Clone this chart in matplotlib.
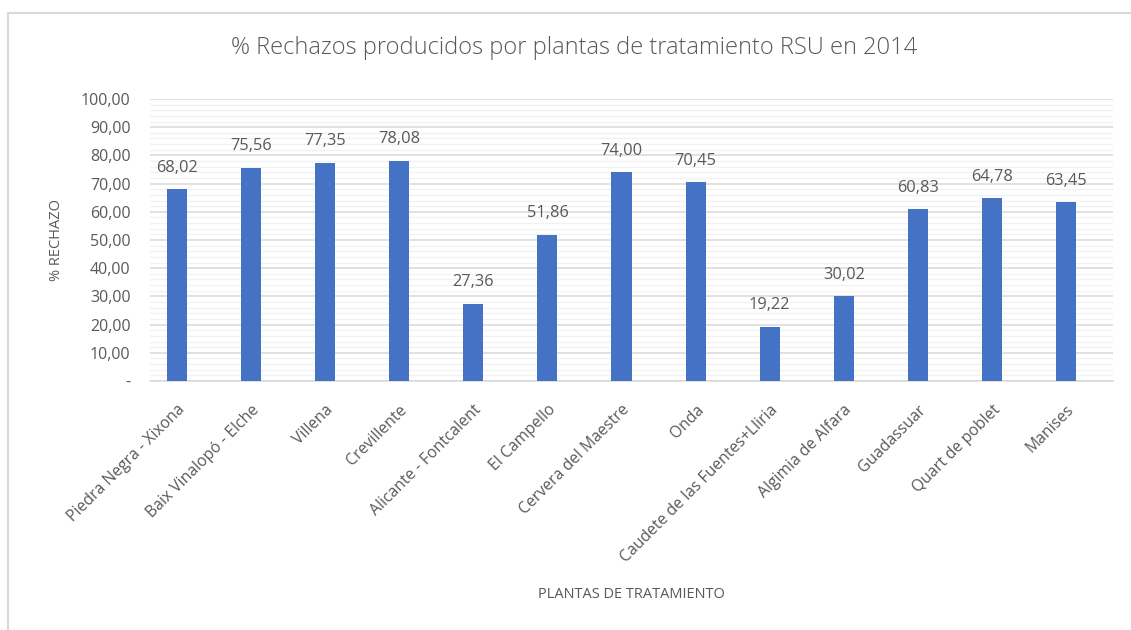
#!/usr/bin/env python3
"""
% Rechazos producidos por plantas de tratamiento RSU en 2014
"""

import numpy as np
import matplotlib
matplotlib.use("Agg")
import matplotlib.pyplot as plt
import matplotlib.ticker as ticker
from matplotlib.patches import Rectangle

# ── data ───────────────────────────────────────────────
plantas = [
    "Piedra Negra - Xixona", "Baix Vinalopó - Elche", "Villena", "Crevillente",
    "Alicante - Fontcalent", "El Campello", "Cervera del Maestre", "Onda",
    "Caudete de las Fuentes+Lliria", "Algimia de Alfara", "Guadassuar",
    "Quart de poblet", "Manises",
]
rechazo = [68.02, 75.56, 77.35, 78.08, 27.36, 51.86, 74.00, 70.45,
           19.22, 30.02, 60.83, 64.78, 63.45]

# ── colours ───────────────────────────────────────────────
C_BAR = "#4472C4"
C_TXT = "#595959"
C_GRID = "#D9D9D9"
C_MINOR = "#F2F2F2"

plt.rcParams["font.family"] = ["Open Sans", "DejaVu Sans"]


def fmt_es(v, pos=None):
    if abs(v) < 1e-9:
        return "-"
    return f"{v:.2f}".replace(".", ",")


fig = plt.figure(figsize=(11.31, 6.30), dpi=100)
ax = fig.add_axes([150 / 1131, 1 - 381 / 630, (1113 - 150) / 1131, (381 - 99) / 630])

# outer chart border (clipped by image on right/bottom)
fig.patches.append(Rectangle((7.5 / 1131, -0.1), 1.2, 1 - 13 / 630 + 0.1,
                             transform=fig.transFigure, fill=False,
                             edgecolor="#D9D9D9", linewidth=1.5))

x = np.arange(len(plantas))
ax.bar(x, rechazo, width=0.27, color=C_BAR, zorder=3)

for xi, v in zip(x, rechazo):
    ax.text(xi, v + 4.8, fmt_es(v), ha="center", va="bottom",
            fontsize=11.8, color=C_TXT)

ax.set_xlim(-0.364, len(plantas) - 1 + 0.634)
ax.set_ylim(0, 100)
ax.yaxis.set_major_locator(ticker.MultipleLocator(10))
ax.yaxis.set_minor_locator(ticker.MultipleLocator(2))
ax.yaxis.set_major_formatter(ticker.FuncFormatter(fmt_es))
ax.grid(axis="y", which="major", color=C_GRID, linewidth=1.1, zorder=0)
ax.grid(axis="y", which="minor", color=C_MINOR, linewidth=1.0, zorder=0)
ax.set_axisbelow(True)

for s in ["top", "right", "left"]:
    ax.spines[s].set_visible(False)
ax.spines["bottom"].set_color(C_GRID)
ax.spines["bottom"].set_linewidth(1.1)

ax.set_xticks(x)
ax.set_xticklabels(plantas, rotation=45, ha="right", va="top",
                   rotation_mode="anchor", fontsize=11.3, color=C_TXT)
ax.tick_params(axis="x", length=0, pad=15)
ax.tick_params(axis="y", which="both", length=0, labelsize=11.5,
               labelcolor=C_TXT, pad=14)

ax.set_ylabel("% RECHAZO", fontsize=10.5, color=C_TXT, labelpad=12)
fig.text(631 / 1131, 1 - 595 / 630, "PLANTAS DE TRATAMIENTO", ha="center",
         va="center", fontsize=10.5, color=C_TXT)
fig.text(574 / 1131, 1 - 48 / 630,
         "% Rechazos producidos por plantas de tratamiento RSU en 2014",
         ha="center", va="center", fontsize=17, color=C_TXT,
         fontweight="light")

fig.savefig("out.png", dpi=100)
